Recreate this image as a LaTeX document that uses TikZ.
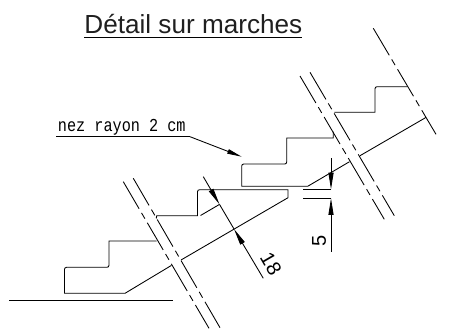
\documentclass[tikz,border=0pt]{standalone}
\usepackage{fontspec}
\setmainfont{Liberation Sans}
\newfontfamily\cadfont{Liberation Mono}
\usetikzlibrary{arrows.meta}
\tikzset{every picture/.style={line width=0.65pt}}
\tikzset{
  breakline/.style={dash pattern={on 23.5pt off 3.6pt on 5pt off 3.6pt}},
  dimarrow/.style={-{Triangle[length=12.5pt,width=3.8pt]}},
  cadtext/.style={inner sep=0pt,font=\cadfont\fontsize{11.4}{13}\selectfont},
  dimtext/.style={inner sep=0pt,font=\fontsize{15}{17}\selectfont}
}

\begin{document}
\begin{tikzpicture}[x=0.75pt,y=0.75pt,yscale=-1,xscale=1]
\useasboundingbox (0,0) rectangle (459,329);

%Straight Lines (floor)
\draw    (9,300.7) -- (173,300.7) ;
%Lower flight
\draw    (156.7,241) -- (109,241) [rounded corners=1.5pt] -- (109,267.3) -- (64.5,267.3) [sharp corners] -- (64.5,293.3) -- (125,293.3) -- (171.4,265.4) ;
\draw    (181,260) -- (288,197.7) -- (288,189.7) [rounded corners=1.5pt] -- (197.5,189.7) [sharp corners] -- (197.5,215.8) -- (156.7,215.8) -- (156.2,218.5) ;
%Upper flight
\draw    (333.3,131.7) -- (333.3,138) -- (286.7,138) [rounded corners=1.5pt] -- (286.7,164) -- (241.7,164) [sharp corners] -- (241.7,186.3) -- (307.7,186.3) -- (349.5,161.7) ;
\draw    (360,155.7) -- (426,117.4) ;
\draw    (334.3,112.3) -- (375,112.3) [rounded corners=1.5pt] -- (375,86.7) [sharp corners] -- (407.3,86.7) ;
%Break lines
\draw  [breakline]  (123.3,181.7) -- (209,328.3) ;
\draw  [breakline]  (133.3,178.3) -- (220,327.7) ;
\draw  [breakline]  (300,76) -- (384.3,219.3) ;
\draw  [breakline]  (310,72.3) -- (394.3,215.7) ;
\draw  [breakline]  (373.3,28.3) -- (436,134.3) ;
%Dimension 18
\draw    (200.5,215.5) -- (219.5,204.4) ;
\draw  [dimarrow]  (203.3,176.7) -- (219.5,204.4) ;
\draw    (219.5,204.4) -- (234,229) ;
\draw  [dimarrow]  (263.3,278.3) -- (234,229) ;
%Dimension 5
\draw    (303.3,189.4) -- (331,189.4) ;
\draw    (303.3,198.3) -- (331,198.3) ;
\draw  [dimarrow]  (331,158.3) -- (331,189.4) ;
\draw  [dimarrow]  (331,251.7) -- (331,198.3) ;
%Leader
\draw    (56,136.7) -- (190,136.7) ;
\draw  [-{Triangle[length=11pt,width=3.4pt]}]  (190,136.7) -- (241.7,156.7) ;
%Title underline
\draw  [line width=0.8pt]  (84,37.7) -- (302,37.7) ;

% Text Node
\draw (84,33) node (title) [anchor=base west,inner sep=0pt,font=\fontsize{19.6}{22}\selectfont,color=black!88] {Détail sur marches};
% Text Node
\draw (57.5,131.5) node (nez) [anchor=base west,cadtext] {\scalebox{1}[1.2]{nez rayon 2 cm}};
% Text Node
\draw (271,264) node (cote18) [dimtext,rotate=-60] {18};
% Text Node
\draw (319,241) node (cote5) [dimtext,rotate=90] {5};

\end{tikzpicture}
\end{document}
